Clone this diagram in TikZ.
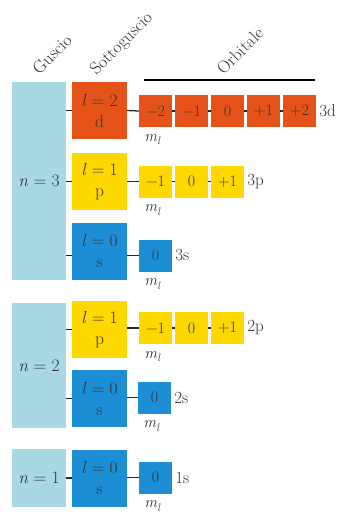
\documentclass[tikz,border=0pt]{standalone}
\usepackage{fontspec}
\usepackage{tikz}
\definecolor{shellc}{HTML}{A8D8E3}
\definecolor{dc}{HTML}{E5531A}
\definecolor{pc}{HTML}{FFD800}
\definecolor{sc}{HTML}{1C8ED6}
\definecolor{txt}{HTML}{333333}
\newcommand{\mlab}{\textit{m}\raisebox{-3.5pt}{\fontsize{11}{12}\selectfont\textit{l}}}
\tikzset{
  base/.style={inner sep=0pt, text=txt, font=\fontsize{17.5}{19}\selectfont},
  shellbox/.style={base, fill=shellc, minimum width=54pt},
  subbox/.style={base, fill=#1, minimum width=55pt, minimum height=57pt, align=center},
  orb/.style={base, fill=#1, minimum width=33pt, minimum height=32pt, font=\fontsize{16}{18}\selectfont},
  conn/.style={line width=1.3pt, black!85},
  lab/.style={base, anchor=west, text=black!80, font=\fontsize{17}{18}\selectfont},
  ml/.style={base, anchor=north, text=txt, font=\fontsize{16}{18}\selectfont},
  head/.style={base, rotate=45, font=\fontsize{17.5}{19}\selectfont, text=black!80}
}
\begin{document}
\begin{tikzpicture}[x=1pt,y=-1pt]
\useasboundingbox (0,0) rectangle (338,514);
% headers
\node[head] (hg) at (52,54) {Guscio};
\node[head] (hs) at (122,44) {Sottoguscio};
\node[head] (ho) at (240,51) {Orbitale};
\coordinate (hl1) at (144,80);
\coordinate (hl2) at (315,80);
\draw[line width=1.3pt] (hl1) -- (hl2);
% shells
\node[shellbox, minimum height=198pt] (n3) at (39,181) {\textit{n} = 3};
\node[shellbox, minimum height=125pt] (n2) at (39,365.5) {\textit{n} = 2};
\node[shellbox, minimum height=58pt] (n1) at (39,478) {\textit{n} = 1};
% subshells
\node[subbox=dc] (s3d) at (99.5,110.5) {\textit{l} = 2\\[2pt]d};
\node[subbox=pc] (s3p) at (99.5,181.5) {\textit{l} = 1\\[2pt]p};
\node[subbox=sc] (s3s) at (99.5,251) {\textit{l} = 0\\[2pt]s};
\node[subbox=pc] (s2p) at (99.5,329.5) {\textit{l} = 1\\[2pt]p};
\node[subbox=sc] (s2s) at (99.5,398.5) {\textit{l} = 0\\[2pt]s};
\node[subbox=sc] (s1s) at (99.5,478) {\textit{l} = 0\\[2pt]s};
% shell -> subshell connectors
\foreach \s/\n in {s3d/n3,s3p/n3,s2p/n2,s2s/n2,s1s/n1}
  \draw[conn] (\n.east |- \s.west) -- (\s.west);
% 3d orbitals
\node[orb=dc] (d1) at (155.5,111) {−2};
\node[orb=dc] (d2) at (191.5,111) {−1};
\node[orb=dc] (d3) at (227.5,111) {0};
\node[orb=dc] (d4) at (263.5,111) {+1};
\node[orb=dc] (d5) at (299.5,111) {+2};
\node[lab] (l3d) at ([xshift=3pt]d5.east) {3d};
\node[ml] (m3d) at ([xshift=-3pt,yshift=-7pt]d1.south) {\mlab};
\draw[conn] (s3d.east) -- (d1.west);
\draw[conn] (d1) -- (d2);
\draw[conn] (d2) -- (d3);
\draw[conn] (d3) -- (d4);
\draw[conn] (d4) -- (d5);
% 3p orbitals
\node[orb=pc] (p1) at (155.5,181.5) {−1};
\node[orb=pc] (p2) at (191.5,181.5) {0};
\node[orb=pc] (p3) at (227.5,181.5) {+1};
\node[lab] (l3p) at ([xshift=3pt]p3.east) {3p};
\node[ml] (m3p) at ([xshift=-3pt,yshift=-7pt]p1.south) {\mlab};
\draw[conn] (s3p.east) -- (p1.west);
\draw[conn] (p1) -- (p2);
\draw[conn] (p2) -- (p3);
% 3s
\node[orb=sc] (o3s) at (155.5,255.5) {0};
\node[lab] (l3s) at ([xshift=3pt]o3s.east) {3s};
\node[ml] (m3s) at ([xshift=-3pt,yshift=-7pt]o3s.south) {\mlab};
\draw[conn] (n3.east |- o3s.west) -- (s3s.west |- o3s.west);
\draw[conn] (s3s.east |- o3s.west) -- (o3s.west);
% 2p
\node[orb=pc] (q1) at (155.5,328) {−1};
\node[orb=pc] (q2) at (191.5,328) {0};
\node[orb=pc] (q3) at (227.5,328) {+1};
\node[lab] (l2p) at ([xshift=3pt]q3.east) {2p};
\node[ml] (m2p) at ([xshift=-3pt,yshift=-7pt]q1.south) {\mlab};
\draw[conn] (s2p.east |- q1.west) -- (q1.west);
\draw[conn] (q1) -- (q2);
\draw[conn] (q2) -- (q3);
% 2s
\node[orb=sc] (o2s) at (154.5,397.5) {0};
\node[lab] (l2s) at ([xshift=3pt]o2s.east) {2s};
\node[ml] (m2s) at ([xshift=-3pt,yshift=-7pt]o2s.south) {\mlab};
\draw[conn] (s2s.east |- o2s.west) -- (o2s.west);
% 1s
\node[orb=sc] (o1s) at (155.5,477.5) {0};
\node[lab] (l1s) at ([xshift=3pt]o1s.east) {1s};
\node[ml] (m1s) at ([xshift=-3pt,yshift=-7pt]o1s.south) {\mlab};
\draw[conn] (s1s.east |- o1s.west) -- (o1s.west);
\end{tikzpicture}
\end{document}
